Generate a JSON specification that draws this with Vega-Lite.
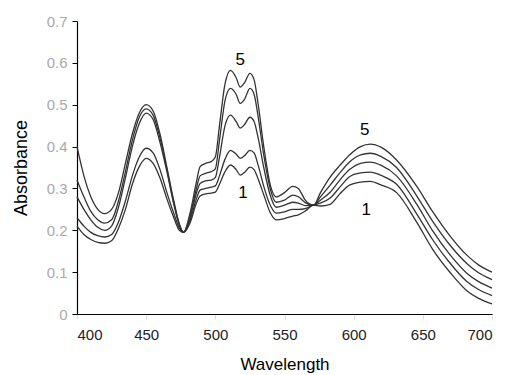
{
  "$schema": "https://vega.github.io/schema/vega-lite/v6.json",
  "width": 415,
  "height": 293,
  "autosize": {"type": "none"},
  "padding": {"left": 77, "top": 21, "right": 17, "bottom": 61},
  "config": {
    "view": {"stroke": null},
    "font": "Liberation Sans",
    "axis": {"grid": false, "domainColor": "#000", "domainWidth": 1.2, "labelFont": "Liberation Sans", "titleFont": "Liberation Sans", "titleFontWeight": "normal", "titleColor": "#000"}
  },
  "layer": [
    {
      "data": {"values": [
        {"w":400,"c1":0.40,"c2":0.32,"c3":0.28,"c4":0.23,"c5":0.21},
        {"w":405,"c1":0.33,"c2":0.28,"c3":0.25,"c4":0.21,"c5":0.19},
        {"w":410,"c1":0.28,"c2":0.245,"c3":0.225,"c4":0.195,"c5":0.178},
        {"w":415,"c1":0.25,"c2":0.225,"c3":0.207,"c4":0.187,"c5":0.171},
        {"w":420,"c1":0.24,"c2":0.217,"c3":0.20,"c4":0.184,"c5":0.169},
        {"w":425,"c1":0.25,"c2":0.225,"c3":0.21,"c4":0.19,"c5":0.175},
        {"w":430,"c1":0.29,"c2":0.27,"c3":0.255,"c4":0.22,"c5":0.205},
        {"w":435,"c1":0.36,"c2":0.34,"c3":0.325,"c4":0.27,"c5":0.25},
        {"w":440,"c1":0.43,"c2":0.415,"c3":0.40,"c4":0.33,"c5":0.31},
        {"w":445,"c1":0.48,"c2":0.47,"c3":0.455,"c4":0.375,"c5":0.352},
        {"w":450,"c1":0.50,"c2":0.49,"c3":0.48,"c4":0.396,"c5":0.372},
        {"w":455,"c1":0.485,"c2":0.475,"c3":0.465,"c4":0.385,"c5":0.36},
        {"w":460,"c1":0.43,"c2":0.42,"c3":0.41,"c4":0.345,"c5":0.325},
        {"w":465,"c1":0.35,"c2":0.345,"c3":0.34,"c4":0.29,"c5":0.275},
        {"w":470,"c1":0.27,"c2":0.265,"c3":0.262,"c4":0.24,"c5":0.23},
        {"w":474,"c1":0.215,"c2":0.213,"c3":0.212,"c4":0.205,"c5":0.20},
        {"w":477,"c1":0.195,"c2":0.195,"c3":0.195,"c4":0.195,"c5":0.195},
        {"w":482,"c5":0.245,"c4":0.238,"c3":0.232,"c2":0.226,"c1":0.22},
        {"w":486,"c5":0.31,"c4":0.295,"c3":0.285,"c2":0.272,"c1":0.262},
        {"w":489,"c5":0.352,"c4":0.33,"c3":0.312,"c2":0.296,"c1":0.282},
        {"w":493,"c5":0.36,"c4":0.336,"c3":0.318,"c2":0.30,"c1":0.287},
        {"w":497,"c5":0.364,"c4":0.34,"c3":0.32,"c2":0.303,"c1":0.289},
        {"w":500,"c5":0.375,"c4":0.347,"c3":0.326,"c2":0.306,"c1":0.291},
        {"w":503,"c5":0.45,"c4":0.415,"c3":0.375,"c2":0.33,"c1":0.31},
        {"w":507,"c5":0.55,"c4":0.51,"c3":0.45,"c2":0.37,"c1":0.34},
        {"w":511,"c5":0.582,"c4":0.539,"c3":0.475,"c2":0.391,"c1":0.356},
        {"w":515,"c5":0.565,"c4":0.525,"c3":0.46,"c2":0.382,"c1":0.345},
        {"w":518,"c5":0.542,"c4":0.503,"c3":0.444,"c2":0.372,"c1":0.332},
        {"w":521,"c5":0.552,"c4":0.512,"c3":0.452,"c2":0.378,"c1":0.338},
        {"w":525,"c5":0.575,"c4":0.539,"c3":0.47,"c2":0.391,"c1":0.351},
        {"w":528,"c5":0.56,"c4":0.525,"c3":0.46,"c2":0.385,"c1":0.345},
        {"w":531,"c5":0.50,"c4":0.47,"c3":0.42,"c2":0.355,"c1":0.322},
        {"w":535,"c5":0.40,"c4":0.38,"c3":0.35,"c2":0.305,"c1":0.285},
        {"w":540,"c5":0.305,"c4":0.295,"c3":0.28,"c2":0.258,"c1":0.24},
        {"w":544,"c5":0.28,"c4":0.267,"c3":0.255,"c2":0.241,"c1":0.225},
        {"w":550,"c5":0.29,"c4":0.272,"c3":0.26,"c2":0.244,"c1":0.228},
        {"w":556,"c5":0.305,"c4":0.284,"c3":0.267,"c2":0.25,"c1":0.234},
        {"w":560,"c5":0.30,"c4":0.28,"c3":0.265,"c2":0.25,"c1":0.237},
        {"w":565,"c5":0.272,"c4":0.266,"c3":0.259,"c2":0.252,"c1":0.246},
        {"w":571,"c5":0.26,"c4":0.26,"c3":0.26,"c2":0.26,"c1":0.26},
        {"w":576,"c5":0.29,"c4":0.28,"c3":0.272,"c2":0.265,"c1":0.258},
        {"w":583,"c5":0.327,"c4":0.308,"c3":0.291,"c2":0.277,"c1":0.262},
        {"w":590,"c5":0.355,"c4":0.337,"c3":0.32,"c2":0.303,"c1":0.287},
        {"w":597,"c5":0.38,"c4":0.363,"c3":0.345,"c2":0.328,"c1":0.308},
        {"w":605,"c5":0.40,"c4":0.38,"c3":0.36,"c2":0.337,"c1":0.315},
        {"w":612,"c5":0.406,"c4":0.384,"c3":0.363,"c2":0.339,"c1":0.317},
        {"w":620,"c5":0.398,"c4":0.376,"c3":0.355,"c2":0.331,"c1":0.308},
        {"w":631,"c5":0.368,"c4":0.35,"c3":0.33,"c2":0.31,"c1":0.29},
        {"w":646,"c5":0.303,"c4":0.28,"c3":0.26,"c2":0.237,"c1":0.217},
        {"w":657,"c5":0.245,"c4":0.222,"c3":0.199,"c2":0.178,"c1":0.155},
        {"w":670,"c5":0.185,"c4":0.163,"c3":0.14,"c2":0.12,"c1":0.098},
        {"w":682,"c5":0.14,"c4":0.12,"c3":0.097,"c2":0.077,"c1":0.055},
        {"w":690,"c5":0.118,"c4":0.099,"c3":0.078,"c2":0.059,"c1":0.038},
        {"w":700,"c5":0.10,"c4":0.082,"c3":0.062,"c2":0.044,"c1":0.024}
      ]},
      "transform": [{"fold": ["c1", "c2", "c3", "c4", "c5"], "as": ["curve", "a"]}],
      "mark": {"type": "line", "color": "#333333", "strokeWidth": 1.3, "interpolate": "monotone"},
      "encoding": {
        "x": {"field": "w", "type": "quantitative", "scale": {"domain": [400, 700], "nice": false},
          "axis": {"title": "Wavelength", "values": [400, 450, 500, 550, 600, 650, 700], "tickColor": "#dddddd", "tickSize": 5, "labelFontSize": 15, "labelColor": "#222", "labelPadding": 8, "titleFontSize": 17, "titlePadding": 14}},
        "y": {"field": "a", "type": "quantitative", "scale": {"domain": [0, 0.7], "nice": false},
          "axis": {"title": "Absorbance", "values": [0, 0.1, 0.2, 0.3, 0.4, 0.5, 0.6, 0.7], "labelExpr": "datum.value == 0 ? '0' : format(datum.value, '.1f')", "tickColor": "#000", "tickSize": 5, "labelFontSize": 15, "labelColor": "#aaaaaa", "labelPadding": 5, "titleFontSize": 18, "titlePadding": 16}},
        "detail": {"field": "curve", "type": "nominal"}
      }
    },
    {
      "data": {"values": [
        {"w": 518, "a": 0.606, "t": "5"},
        {"w": 520, "a": 0.29, "t": "1"},
        {"w": 608, "a": 0.44, "t": "5"},
        {"w": 609, "a": 0.248, "t": "1"}
      ]},
      "mark": {"type": "text", "fontSize": 17, "color": "#000", "baseline": "middle", "align": "center"},
      "encoding": {
        "x": {"field": "w", "type": "quantitative"},
        "y": {"field": "a", "type": "quantitative"},
        "text": {"field": "t"}
      }
    }
  ]
}
